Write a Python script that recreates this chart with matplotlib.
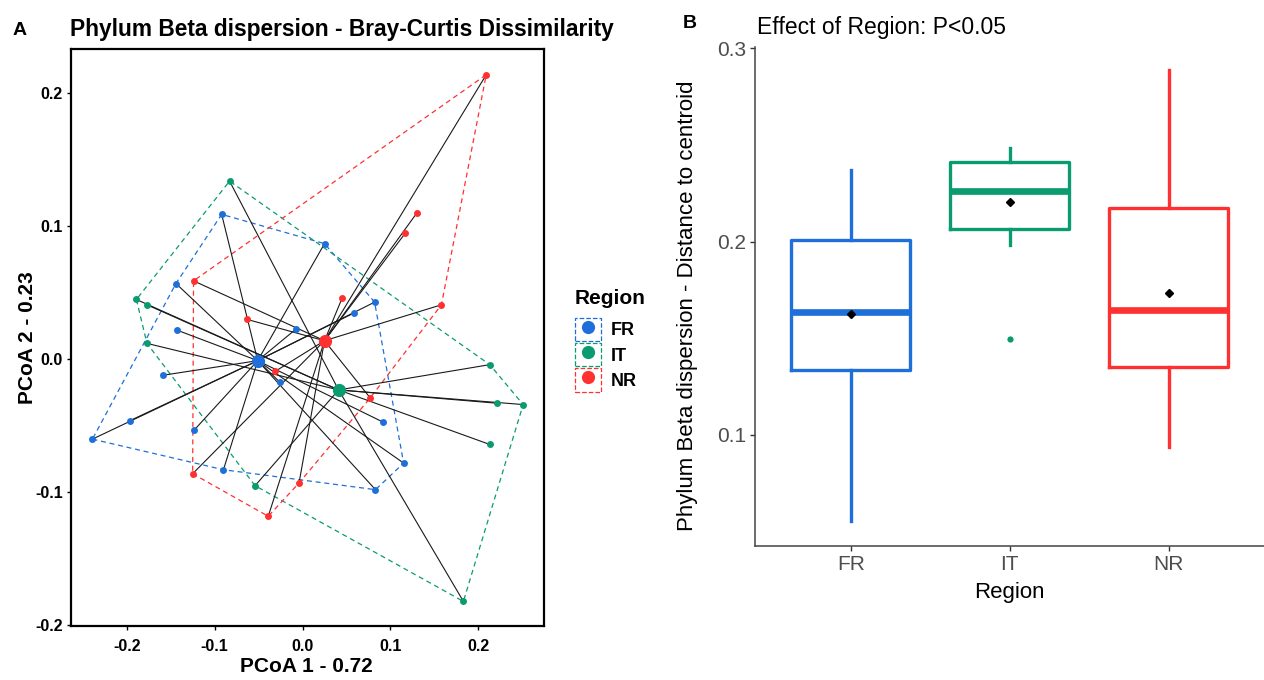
import numpy as np
import matplotlib
matplotlib.use('Agg')
import matplotlib.pyplot as plt
from matplotlib.lines import Line2D
from matplotlib.patches import Patch

plt.rcParams['font.family'] = ['Liberation Sans', 'DejaVu Sans']
plt.rcParams['axes.unicode_minus'] = False

# colours per region
regions = ['FR', 'IT', 'NR']
colors = {'FR': '#1E6FD9', 'IT': '#0B9B70', 'NR': '#FF3030'}

# PCoA sample coordinates
fr_x = [-0.092, 0.025, -0.144, 0.082, 0.059, -0.007, -0.143, -0.159,
        -0.026, 0.091, -0.196, -0.239, -0.123, 0.115, -0.090, 0.083]
fr_y = [0.109, 0.087, 0.057, 0.043, 0.035, 0.023, 0.022, -0.012,
        -0.017, -0.047, -0.046, -0.060, -0.053, -0.078, -0.083, -0.098]
it_x = [-0.083, -0.189, -0.177, -0.177, 0.213, 0.221, 0.251, 0.213, -0.054, 0.183]
it_y = [0.134, 0.045, 0.041, 0.012, -0.004, -0.033, -0.034, -0.064, -0.095, -0.182]
nr_x = [0.209, 0.130, 0.117, -0.124, 0.045, 0.158, -0.063, -0.031, 0.077, -0.125, -0.004, -0.039]
nr_y = [0.214, 0.110, 0.095, 0.059, 0.046, 0.041, 0.030, -0.009, -0.029, -0.086, -0.093, -0.118]

# group centroids
cent_x = [-0.051, 0.041, 0.025]
cent_y = [-0.001, -0.023, 0.014]

# distance to centroid boxplot summary
box_whislo = [0.0557, 0.1983, 0.0940]
box_q1 = [0.1336, 0.2064, 0.1350]
box_med = [0.1635, 0.2264, 0.1646]
box_q3 = [0.2009, 0.2414, 0.2176]
box_whishi = [0.2371, 0.2483, 0.2888]
box_mean = [0.1625, 0.2205, 0.1733]
box_fliers = [[], [0.1496], []]

points = {'FR': (fr_x, fr_y), 'IT': (it_x, it_y), 'NR': (nr_x, nr_y)}


def convex_hull(xs, ys):
    pts = sorted(set(zip(xs, ys)))

    def cross(o, a, b):
        return (a[0] - o[0]) * (b[1] - o[1]) - (a[1] - o[1]) * (b[0] - o[0])

    lower, upper = [], []
    for p in pts:
        while len(lower) >= 2 and cross(lower[-2], lower[-1], p) <= 0:
            lower.pop()
        lower.append(p)
    for p in reversed(pts):
        while len(upper) >= 2 and cross(upper[-2], upper[-1], p) <= 0:
            upper.pop()
        upper.append(p)
    return lower[:-1] + upper[:-1]


fig = plt.figure(figsize=(12.64, 6.8), dpi=100)

# ---------------- Panel A ----------------
ax1 = fig.add_axes([0.05617, 0.07941, 0.37421, 0.84809])
for i, reg in enumerate(regions):
    xs, ys = points[reg]
    h = convex_hull(xs, ys)
    h = h + [h[0]]
    ax1.plot([p[0] for p in h], [p[1] for p in h], color=colors[reg],
             lw=0.9, dashes=(4, 3), zorder=1)
for i, reg in enumerate(regions):
    xs, ys = points[reg]
    for x, y in zip(xs, ys):
        ax1.plot([x, cent_x[i]], [y, cent_y[i]], color='#1a1a1a', lw=0.8, zorder=2)
for i, reg in enumerate(regions):
    xs, ys = points[reg]
    ax1.plot(xs, ys, 'o', color=colors[reg], ms=5, mec='none', zorder=3)
    ax1.plot(cent_x[i], cent_y[i], 'o', color=colors[reg], ms=9.5, mec='none', zorder=4)

ax1.set_xlim(-0.2634, 0.2747)
ax1.set_ylim(-0.2005, 0.2331)
ticks = [-0.2, -0.1, 0.0, 0.1, 0.2]
ax1.set_xticks(ticks)
ax1.set_yticks(ticks)
ax1.set_xticklabels([f'{t:.1f}' for t in ticks])
ax1.set_yticklabels([f'{t:.1f}' for t in ticks])
for s in ax1.spines.values():
    s.set_linewidth(1.6)
    s.set_color('black')
ax1.tick_params(length=3, width=1, labelsize=11.5, pad=3, colors='black')
ax1.tick_params(axis='x', pad=6)
for lab in ax1.get_xticklabels() + ax1.get_yticklabels():
    lab.set_fontweight('bold')
ax1.set_xlabel('PCoA 1 - 0.72', fontsize=15, fontweight='bold', va='center')
ax1.xaxis.set_label_coords(0.497, -0.071)
ax1.set_ylabel('PCoA 2 - 0.23', fontsize=15, fontweight='bold', va='center')
ax1.yaxis.set_label_coords(-0.092, 0.5)

fig.text(13 / 1264, 1 - 35 / 680, 'A', fontsize=14, fontweight='bold', va='baseline')
fig.text(70 / 1264, 1 - 36 / 680, 'Phylum Beta dispersion - Bray-Curtis Dissimilarity',
         fontsize=16.4, fontweight='bold', va='baseline')

handles = [(Patch(facecolor='none', edgecolor=colors[r], ls='--', lw=0.9),
            Line2D([], [], marker='o', ls='', color=colors[r], ms=9.5, mec='none'))
           for r in regions]
leg = fig.legend(handles, regions, title='Region', loc='upper left',
                 bbox_to_anchor=(566 / 1264, 1 - 280 / 680), frameon=False,
                 borderpad=0, handlelength=1.45, handleheight=1.6,
                 handletextpad=0.55, labelspacing=0.12,
                 prop={'weight': 'bold', 'size': 13},
                 title_fontproperties={'weight': 'bold', 'size': 15},
                 alignment='left')
leg._legend_box.sep = 7

# ---------------- Panel B ----------------
ax2 = fig.add_axes([0.5977, 0.1975, 0.4023, 0.7338])
stats = []
for i, reg in enumerate(regions):
    stats.append(dict(label=reg, whislo=box_whislo[i], q1=box_q1[i], med=box_med[i],
                      q3=box_q3[i], whishi=box_whishi[i], mean=box_mean[i],
                      fliers=box_fliers[i]))
bp = ax2.bxp(stats, positions=[1, 2, 3], widths=0.75, showcaps=False,
             showmeans=True, showfliers=True,
             meanprops=dict(marker='D', markerfacecolor='black',
                            markeredgecolor='black', markersize=4.5))
for i, reg in enumerate(regions):
    c = colors[reg]
    bp['boxes'][i].set(color=c, lw=2.4)
    bp['medians'][i].set(color=c, lw=4.8, solid_capstyle='butt')
    bp['whiskers'][2 * i].set(color=c, lw=2.4)
    bp['whiskers'][2 * i + 1].set(color=c, lw=2.4)
    bp['fliers'][i].set(marker='o', markerfacecolor=c, markeredgecolor='none', markersize=4.5)

ax2.set_xlim(0.4, 3.6)
ax2.set_ylim(0.0427, 0.3009)
ax2.set_yticks([0.1, 0.2, 0.3])
ax2.set_yticklabels(['0.1', '0.2', '0.3'])
ax2.spines['top'].set_visible(False)
ax2.spines['right'].set_visible(False)
for s in ['left', 'bottom']:
    ax2.spines[s].set_color('#444444')
    ax2.spines[s].set_linewidth(1.1)
ax2.tick_params(length=3.5, width=1, color='#333333', labelcolor='#4D4D4D',
                labelsize=15, pad=3)
ax2.set_xlabel('Region', fontsize=16, va='center')
ax2.xaxis.set_label_coords(0.5, -0.094)
ax2.set_ylabel('Phylum Beta dispersion - Distance to centroid', fontsize=16, va='center')
ax2.yaxis.set_label_coords(-0.1337, 0.48)

fig.text(683 / 1264, 1 - 28 / 680, 'B', fontsize=14, fontweight='bold', va='baseline')
fig.text(757 / 1264, 1 - 34 / 680, 'Effect of Region: P<0.05', fontsize=16.5, va='baseline')

fig.savefig('out.png', dpi=100)
